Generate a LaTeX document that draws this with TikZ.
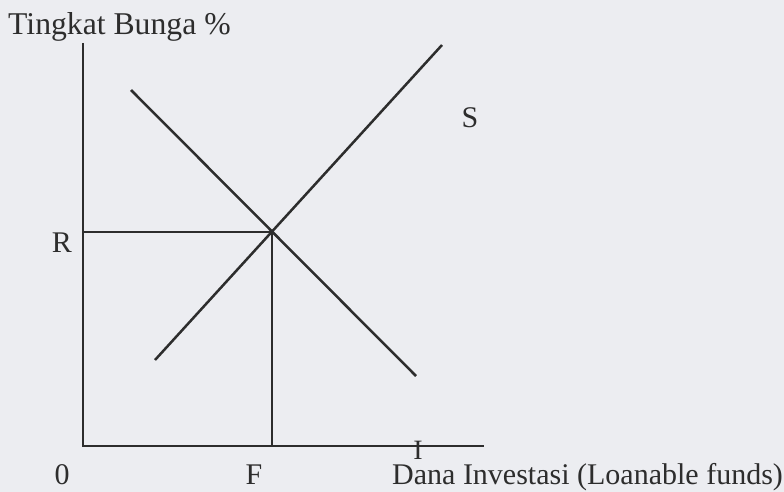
\documentclass[tikz,border=0pt]{standalone}
\usepackage{fontspec}
\setmainfont{Liberation Serif}
\definecolor{bg}{RGB}{236,237,241}
\definecolor{ink}{RGB}{45,45,45}
\begin{document}
\begin{tikzpicture}[x=1pt,y=-1pt,
  axisline/.style={draw=ink,line width=1.7pt},
  curve/.style={draw=ink,line width=2.5pt},
  guide/.style={draw=ink,line width=1.5pt},
  lbl/.style={text=ink,font=\fontsize{30}{30}\selectfont,inner sep=0pt}]
\fill[bg] (0,0) rectangle (784,492);
\useasboundingbox (0,0) rectangle (784,492);
% axes
\coordinate (O) at (83,446);
\coordinate (Ytop) at (83,43);
\coordinate (Xend) at (484,446);
\draw[axisline] (Ytop) -- (O) -- (Xend);
% curves
\coordinate (Da) at (131,90);
\coordinate (Db) at (416,376);
\coordinate (Sa) at (155,360);
\coordinate (Sb) at (442,45);
\draw[curve] (Da) -- (Db);
\draw[curve] (Sa) -- (Sb);
% equilibrium
\coordinate (E) at (272,232);
\coordinate (Ry) at (83,232);
\coordinate (Fx) at (272,446);
\draw[guide] (Ry) -- (E) -- (Fx);
% labels
\node[lbl,anchor=base west,font=\fontsize{31.7}{32}\selectfont] (ylab) at (8,35) {Tingkat Bunga \%};
\node[lbl,anchor=base] (Rl) at (62,252) {R};
\node[lbl,anchor=base] (Zl) at (62,484) {0};
\node[lbl,anchor=base] (Fl) at (254,484) {F};
\node[lbl,anchor=base] (Sl) at (470,128) {S};
\node[lbl,anchor=base,font=\fontsize{28}{28}\selectfont] (Il) at (418,459) {I};
\node[lbl,anchor=base west,text height=20pt,text depth=6pt] (xlab) at (392,484) {Dana Investasi (Loanable funds)};
\end{tikzpicture}
\end{document}
